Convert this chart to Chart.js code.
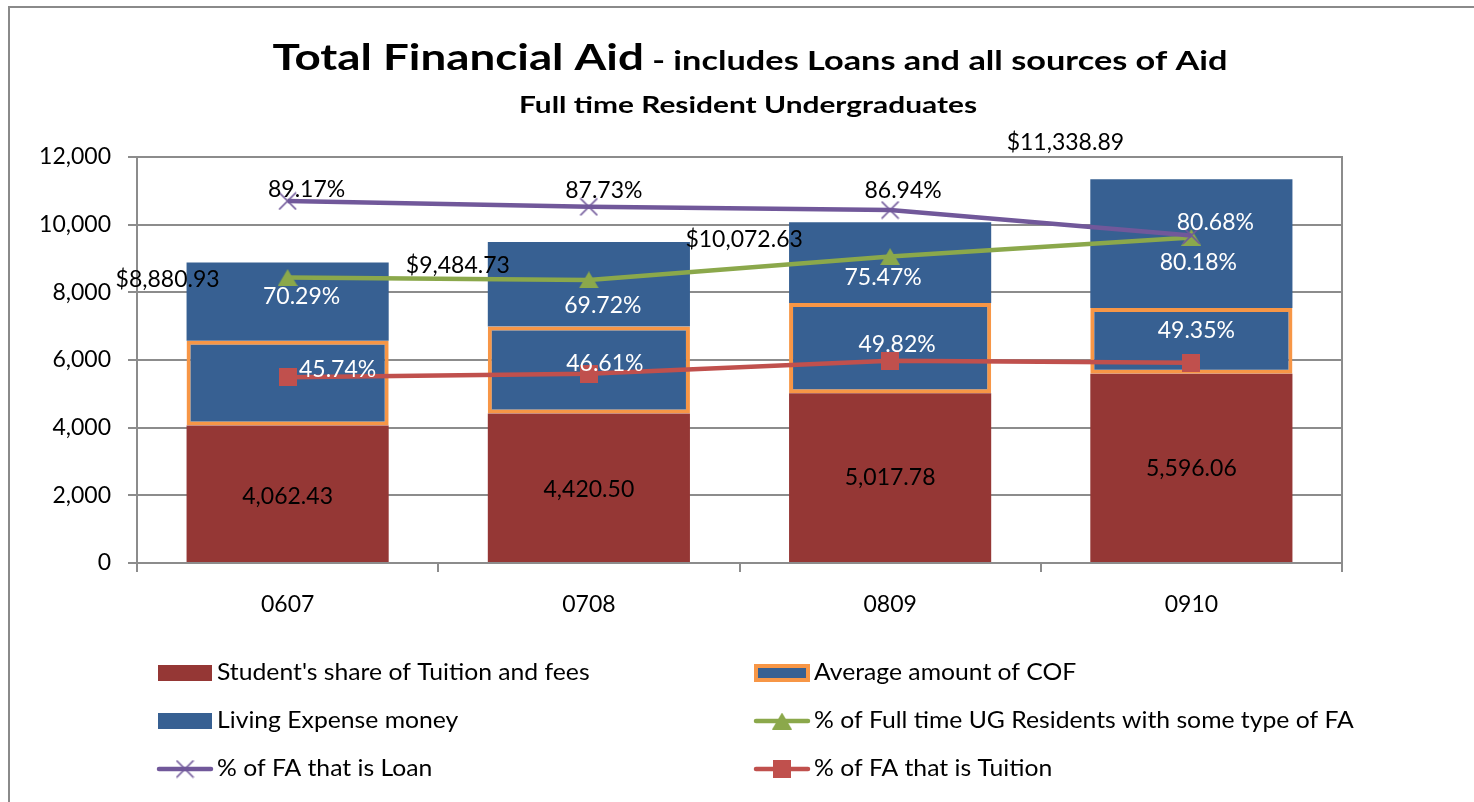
<!DOCTYPE html>
<html>
<head>
<meta charset="utf-8">
<script src="https://cdn.jsdelivr.net/npm/chart.js@4.4.1/dist/chart.umd.min.js"></script>
<style>
html,body{margin:0;padding:0;background:#fff;overflow:hidden}
#wrap{position:relative;width:1474px;height:802px}
canvas{display:block}
</style>
</head>
<body>
<div id="wrap"><canvas id="c" width="1474" height="802"></canvas></div>
<script>
// ---------------- DATA ----------------
const categories = ['0607', '0708', '0809', '0910'];
const tuitionShare = [4062.43, 4420.50, 5017.78, 5596.06];      // Student's share of Tuition and fees
const cofAmount = [2508, 2573, 2667, 1941];                      // Average amount of COF (estimated)
const livingExpense = [2310.50, 2491.23, 2387.85, 3801.83];      // Living Expense money (estimated)
const totalAid = [8880.93, 9484.73, 10072.63, 11338.89];         // total labels
const pctWithFA = [0.7029, 0.6972, 0.7547, 0.8018];              // % of Full time UG Residents with some type of FA
const pctLoan = [0.8917, 0.8773, 0.8694, 0.8068];                // % of FA that is Loan
const pctTuition = [0.4574, 0.4661, 0.4982, 0.4935];             // % of FA that is Tuition
const yTickValues = [0, 2000, 4000, 6000, 8000, 10000, 12000];

const titleMain = 'Total Financial Aid';
const titleRest = ' - includes Loans and all sources of Aid';
const subTitle = 'Full time Resident Undergraduates';

// ---------------- STYLE ----------------
const FONT = 'Lato, "Open Sans", sans-serif';
const C_RED_BAR = '#953735';
const C_BLUE = '#376092';
const C_ORANGE = '#F79646';
const C_GREEN = '#8BA84B';
const C_PURPLE = '#71589A';
const C_RED_LINE = '#C0504D';
const C_GRID = '#8c8c8c';

// label offsets (pixels) relative to each point's anchor
const offTuitionBar = [[0, 3], [0, 2], [0, 0], [0, 1]];
const offTotal = [[-120, 17], [-131, 23], [-146, 17], [-126, -37]];
const offWithFA = [[14, 19], [14, 26], [-7, 21], [7, 25]];
const offLoan = [[19, -11], [15, -16], [13, -19], [24, -13]];
const offTuitionPct = [[50, -8], [16, -10], [7, -16], [5, -32]];
const loanLabelColors = ['#000', '#000', '#000', '#fff'];

// ---------------- MARKERS ----------------
function mk(w, h, draw) {
  const c = document.createElement('canvas');
  c.width = w; c.height = h;
  draw(c.getContext('2d'), w, h);
  return c;
}
const triMarker = mk(20, 17, (g, w, h) => {
  g.fillStyle = C_GREEN;
  g.beginPath(); g.moveTo(w / 2, 0); g.lineTo(w, h); g.lineTo(0, h); g.closePath(); g.fill();
});
const sqMarker = mk(18, 18, (g, w, h) => { g.fillStyle = C_RED_LINE; g.fillRect(0, 0, w, h); });
const crossMarker = mk(19, 19, (g, w, h) => {
  g.strokeStyle = C_PURPLE; g.lineWidth = 1.7;
  g.beginPath(); g.moveTo(1, 1); g.lineTo(w - 1, h - 1); g.moveTo(w - 1, 1); g.lineTo(1, h - 1); g.stroke();
});

const money = v => v.toLocaleString('en-US', {minimumFractionDigits: 2, maximumFractionDigits: 2});
const pct = v => (v * 100).toFixed(2) + '%';

function textScaled(ctx, text, x, y, sx) {
  ctx.save();
  ctx.translate(x, y);
  ctx.scale(sx, 1);
  ctx.fillText(text, 0, 0);
  ctx.restore();
}

// ---------------- PLUGINS ----------------
const framePlugin = {
  id: 'frame',
  beforeDraw(chart) {
    const ctx = chart.ctx;
    ctx.save();
    ctx.fillStyle = '#fff';
    ctx.fillRect(0, 0, chart.width, chart.height);
    ctx.strokeStyle = '#8a8a8a'; ctx.lineWidth = 2;
    ctx.beginPath(); ctx.moveTo(9, chart.height); ctx.lineTo(9, 7); ctx.lineTo(chart.width, 7); ctx.stroke();
    ctx.restore();
  },
  beforeDatasetsDraw(chart) {
    const ctx = chart.ctx, a = chart.chartArea;
    ctx.save();
    ctx.strokeStyle = C_GRID; ctx.lineWidth = 2;
    ctx.beginPath(); ctx.moveTo(a.right, a.top - 1); ctx.lineTo(a.right, a.bottom); ctx.stroke();
    ctx.restore();
  }
};

const titlePlugin = {
  id: 'titles',
  afterDraw(chart) {
    const ctx = chart.ctx;
    ctx.save();
    ctx.fillStyle = '#000';
    ctx.textBaseline = 'alphabetic';
    ctx.textAlign = 'left';
    const f1 = 'bold 36px ' + FONT, f2 = 'bold 27px ' + FONT;
    ctx.font = f1; const w1 = ctx.measureText(titleMain).width;
    ctx.font = f2; const w2 = ctx.measureText(titleRest).width;
    const targetW = 955, cx = 750;
    const sx = targetW / (w1 + w2);
    const x0 = cx - targetW / 2;
    ctx.font = f1; textScaled(ctx, titleMain, x0, 70, sx);
    ctx.font = f2; textScaled(ctx, titleRest, x0 + w1 * sx, 70, sx);
    ctx.font = 'bold 23px ' + FONT;
    const ws = ctx.measureText(subTitle).width;
    const ssx = 458 / ws;
    textScaled(ctx, subTitle, 748 - 229, 113, ssx);
    ctx.restore();
  }
};

const labelPlugin = {
  id: 'dlabels',
  afterDatasetsDraw(chart) {
    const ctx = chart.ctx;
    ctx.save();
    ctx.font = '23px ' + FONT;
    ctx.textAlign = 'center';
    ctx.textBaseline = 'middle';
    chart.data.datasets.forEach((ds, di) => {
      if (!ds.dl) return;
      const meta = chart.getDatasetMeta(di);
      meta.data.forEach((el, i) => {
        let y = el.y;
        if (ds.dl.anchor === 'center') y = (el.y + el.base) / 2;
        const o = ds.dl.offsets[i];
        ctx.fillStyle = typeof ds.dl.color === 'function' ? ds.dl.color(i) : ds.dl.color;
        ctx.fillText(ds.dl.text(i), el.x + o[0], y + o[1]);
      });
    });
    ctx.restore();
  }
};

const legendPlugin = {
  id: 'customLegend',
  afterDraw(chart) {
    const ctx = chart.ctx;
    const ds = chart.data.datasets;
    const byKey = k => ds.find(d => d.key === k);
    const cols = [158, 755];
    const rows = [673, 721, 769];
    const layout = [
      ['tuitionBar', 0, 0], ['livingBar', 0, 1], ['loanLine', 0, 2],
      ['cofBar', 1, 0], ['faLine', 1, 1], ['tuitionLine', 1, 2]
    ];
    ctx.save();
    ctx.font = '23px ' + FONT;
    ctx.textBaseline = 'middle';
    ctx.textAlign = 'left';
    layout.forEach(([k, c, r]) => {
      const d = byKey(k);
      const x0 = cols[c], yc = rows[r];
      if (d.type === 'bar') {
        if (d.borderWidth) {
          ctx.fillStyle = d.borderColor;
          ctx.fillRect(x0 - 1, yc - 9, 56, 18);
          ctx.fillStyle = d.backgroundColor;
          ctx.fillRect(x0 + 3, yc - 5, 48, 10);
        } else {
          ctx.fillStyle = d.backgroundColor;
          ctx.fillRect(x0, yc - 8, 54, 16);
        }
      } else {
        ctx.strokeStyle = d.borderColor;
        ctx.lineWidth = 4.5;
        ctx.lineCap = 'round';
        ctx.beginPath(); ctx.moveTo(x0 + 1, yc); ctx.lineTo(x0 + 53, yc); ctx.stroke();
        const m = d.pointStyle;
        ctx.drawImage(m, x0 + 27 - m.width / 2, yc - m.height / 2);
      }
      ctx.fillStyle = '#000';
      textScaled(ctx, d.label, x0 + 59, yc, 1.075);
    });
    ctx.restore();
  }
};

// ---------------- CHART ----------------
function build() {
  const ctx = document.getElementById('c').getContext('2d');
  new Chart(ctx, {
    data: {
      labels: categories,
      datasets: [
        {
          key: 'tuitionLine', type: 'line', label: '% of FA that is Tuition', data: pctTuition,
          yAxisID: 'y2', borderColor: C_RED_LINE, backgroundColor: C_RED_LINE, borderWidth: 4.5,
          pointStyle: sqMarker, pointRadius: 9, order: 0, tension: 0,
          dl: {color: '#fff', offsets: offTuitionPct, text: i => pct(pctTuition[i])}
        },
        {
          key: 'loanLine', type: 'line', label: '% of FA that is Loan', data: pctLoan,
          yAxisID: 'y2', borderColor: C_PURPLE, backgroundColor: C_PURPLE, borderWidth: 4.5,
          pointStyle: crossMarker, pointRadius: 9, order: 1, tension: 0,
          dl: {color: i => loanLabelColors[i], offsets: offLoan, text: i => pct(pctLoan[i])}
        },
        {
          key: 'faLine', type: 'line', label: '% of Full time UG Residents with some type of FA', data: pctWithFA,
          yAxisID: 'y2', borderColor: C_GREEN, backgroundColor: C_GREEN, borderWidth: 4.5,
          pointStyle: triMarker, pointRadius: 9, order: 2, tension: 0,
          dl: {color: '#fff', offsets: offWithFA, text: i => pct(pctWithFA[i])}
        },
        {
          key: 'tuitionBar', type: 'bar', label: "Student's share of Tuition and fees", data: tuitionShare,
          backgroundColor: C_RED_BAR, borderWidth: 0, order: 3, stack: 's',
          dl: {color: '#000', anchor: 'center', offsets: offTuitionBar, text: i => money(tuitionShare[i])}
        },
        {
          key: 'cofBar', type: 'bar', label: 'Average amount of COF', data: cofAmount,
          backgroundColor: C_BLUE, borderColor: C_ORANGE, borderWidth: 4, borderSkipped: false,
          order: 4, stack: 's'
        },
        {
          key: 'livingBar', type: 'bar', label: 'Living Expense money', data: livingExpense,
          backgroundColor: C_BLUE, borderWidth: 0, order: 5, stack: 's',
          dl: {color: '#000', anchor: 'top', offsets: offTotal, text: i => '$' + money(totalAid[i])}
        }
      ]
    },
    options: {
      responsive: false,
      animation: false,
      devicePixelRatio: 1,
      layout: {padding: {top: 157, right: 132, bottom: 189, left: 0}},
      plugins: {legend: {display: false}, tooltip: {enabled: false}, title: {display: false}},
      datasets: {bar: {categoryPercentage: 0.671, barPercentage: 1}},
      scales: {
        x: {
          stacked: true,
          offset: true,
          grid: {offset: true, drawOnChartArea: false, drawTicks: true, tickLength: 9, color: C_GRID, lineWidth: 2},
          border: {display: true, color: C_GRID, width: 2},
          ticks: {color: '#000', font: {family: FONT, size: 23}, padding: 19},
          afterFit: s => { s.height = 50; }
        },
        y: {
          stacked: true,
          min: 0, max: 12000,
          afterBuildTicks: s => { s.ticks = yTickValues.map(v => ({value: v})); },
          grid: {color: C_GRID, lineWidth: 2, tickLength: 9, drawTicks: true},
          border: {display: true, color: C_GRID, width: 2},
          ticks: {color: '#000', font: {family: FONT, size: 23}, padding: 17,
                  callback: v => Number(v).toLocaleString('en-US')},
          afterFit: s => { s.width = 137; }
        },
        y2: {
          display: false, min: 0, max: 1, stacked: false
        }
      }
    },
    plugins: [framePlugin, titlePlugin, labelPlugin, legendPlugin]
  });
}

const fontsReady = (document.fonts && document.fonts.load)
  ? Promise.all([document.fonts.load('23px Lato'), document.fonts.load('bold 36px Lato')]).catch(() => {})
  : Promise.resolve();
fontsReady.then(build, build);
</script>
</body>
</html>
